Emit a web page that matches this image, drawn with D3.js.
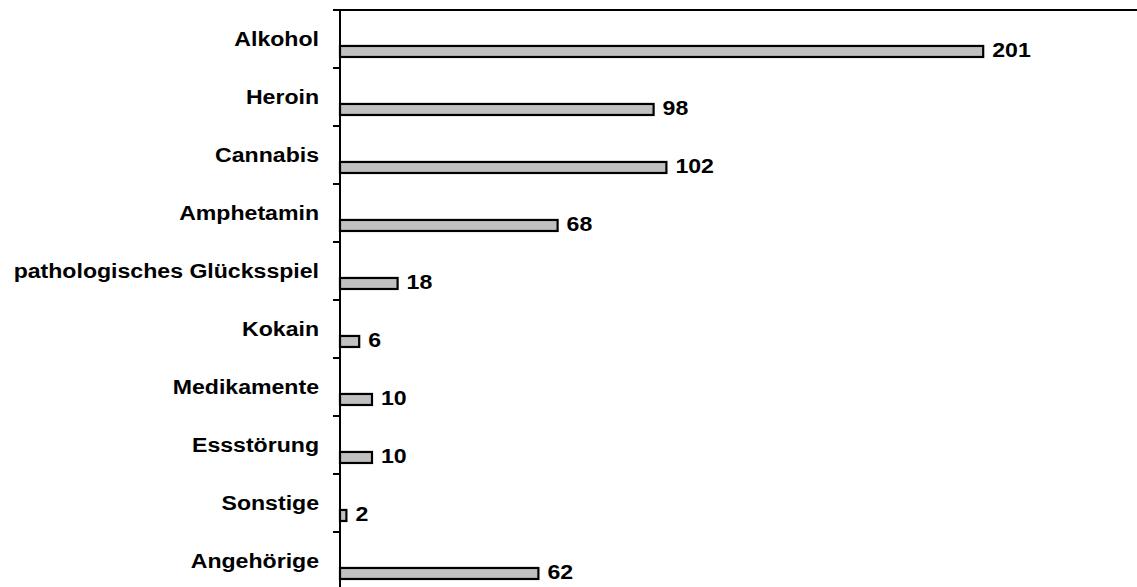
<!DOCTYPE html>
<html>
<head>
<meta charset="utf-8">
<script src="https://cdn.jsdelivr.net/npm/d3@7/dist/d3.min.js"></script>
<style>
  body { margin: 0; background: #fff; }
  text { font-family: "Liberation Sans", Arial, sans-serif; font-weight: bold; font-size: 21px; fill: #000; }
</style>
</head>
<body>
<div class="chart"></div>
<script>
const categories = ["Alkohol", "Heroin", "Cannabis", "Amphetamin", "pathologisches Glücksspiel",
  "Kokain", "Medikamente", "Essstörung", "Sonstige", "Angehörige"];
const values = [201, 98, 102, 68, 18, 6, 10, 10, 2, 62];

const width = 1137, height = 587;
const plotLeft = 340, plotTop = 10;

const svg = d3.select("div.chart").append("svg")
    .attr("width", width)
    .attr("height", height);

const x = d3.scaleLinear().domain([0, 250]).range([plotLeft, plotLeft + 800]);
const y = d3.scaleBand().domain(categories).range([plotTop, plotTop + 58 * categories.length]);
const bw = y.bandwidth();

let data = categories.map((c, i) => ({ name: c, value: values[i] }));

// bars
svg.selectAll("rect.bar")
    .data(data)
    .enter().append("rect")
    .attr("class", "bar")
    .attr("x", x(0))
    .attr("y", d => y(d.name) + bw * 0.62)
    .attr("width", d => x(d.value) - x(0))
    .attr("height", bw * 0.19)
    .style("fill", "#c0c0c0")
    .style("stroke", "#000")
    .style("stroke-width", 2.2);

// top border of the plot area
svg.append("line")
    .attr("x1", plotLeft).attr("x2", width)
    .attr("y1", plotTop).attr("y2", plotTop)
    .style("stroke", "#000")
    .style("stroke-width", 2);

// left axis with ticks between categories
svg.append("line")
    .attr("x1", plotLeft).attr("x2", plotLeft)
    .attr("y1", plotTop).attr("y2", height + 5)
    .style("stroke", "#000")
    .style("stroke-width", 2);

svg.selectAll("line.tick")
    .data(categories)
    .enter().append("line")
    .attr("class", "tick")
    .attr("x1", plotLeft - 7).attr("x2", plotLeft)
    .attr("y1", d => y(d))
    .attr("y2", d => y(d))
    .style("stroke", "#000")
    .style("stroke-width", 2);

// category labels
svg.selectAll("text.cat")
    .data(data)
    .enter().append("text")
    .attr("class", "cat")
    .attr("text-anchor", "end")
    .attr("transform", d => `translate(${plotLeft - 21},${y(d.name) + 36}) scale(1.1,1)`)
    .text(d => d.name);

// value labels
svg.selectAll("text.val")
    .data(data)
    .enter().append("text")
    .attr("class", "val")
    .attr("transform", d => `translate(${x(d.value) + 9},${y(d.name) + 47}) scale(1.1,1)`)
    .text(d => d.value);
</script>
</body>
</html>
